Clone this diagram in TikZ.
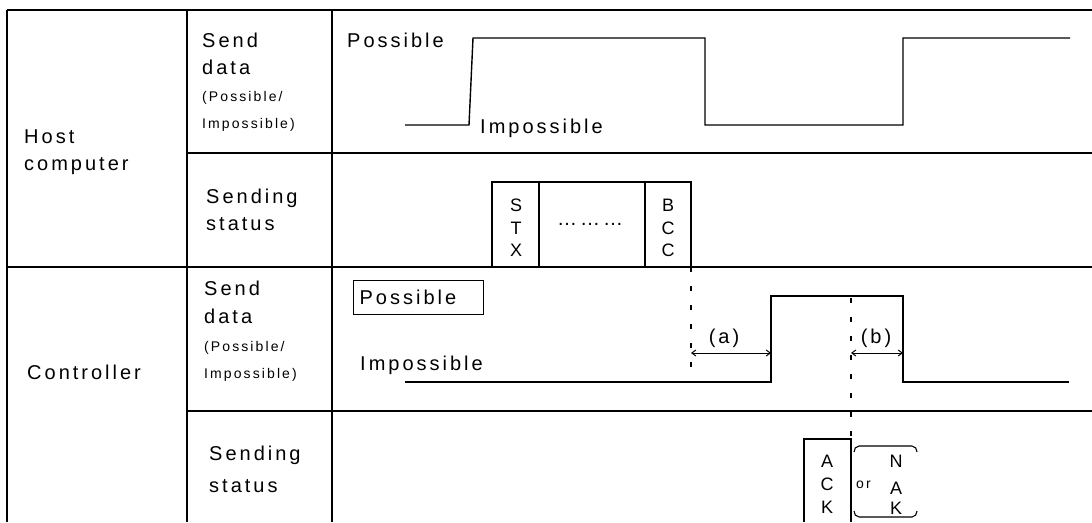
\documentclass[tikz,border=0pt]{standalone}
\usepackage{fontspec}
\setmainfont{Liberation Sans}[LetterSpace=15]
\usetikzlibrary{arrows.meta}
\begin{document}
\begin{tikzpicture}[x=1pt,y=-1pt,
  rule/.style={line width=2.8pt},
  post/.style={line width=2.4pt},
  wave/.style={line width=1.4pt},
  frameline/.style={line width=1.3pt},
  guide/.style={line width=1.1pt, dash pattern=on 5pt off 14pt},
  span/.style={line width=1pt, {Straight Barb[length=4pt,width=6pt]}-{Straight Barb[length=4pt,width=6pt]}},
  lbl/.style={anchor=base west, inner sep=0pt, font=\fontsize{20}{24}\selectfont},
  sml/.style={anchor=base west, inner sep=0pt, font=\fontsize{14}{16}\selectfont},
  glyph/.style={anchor=base, inner sep=0pt, font=\fontsize{18}{20}\selectfont},
  spanlbl/.style={anchor=base, inner sep=0pt, font=\fontsize{20}{24}\selectfont}]
\useasboundingbox (0,0) rectangle (1092,522);

% table grid
\draw[rule] (7,10) -- (1092,10);
\draw[rule] (7,267) -- (1092,267);
\draw[rule] (187,153) -- (1092,153);
\draw[rule] (187,411) -- (1092,411);
\draw[post] (7,10) -- (7,522);
\draw[post] (187,10) -- (187,522);
\draw[post] (332,10) -- (332,522);

% row headings
\node[lbl] (host1) at (24,143) {Host};
\node[lbl] (host2) at (24,170) {computer};
\node[lbl] (ctrl) at (27,379) {Controller};

\node[lbl] (hsd1) at (202,47) {Send};
\node[lbl] (hsd2) at (202,74) {data};
\node[sml] (hsd3) at (202,101) {(Possible/};
\node[sml] (hsd4) at (202,128) {Impossible)};
\node[lbl] (hss1) at (206,203) {Sending};
\node[lbl] (hss2) at (206,230) {status};

\node[lbl] (csd1) at (204,295) {Send};
\node[lbl] (csd2) at (204,323) {data};
\node[sml] (csd3) at (204,351) {(Possible/};
\node[sml] (csd4) at (204,378) {Impossible)};
\node[lbl] (css1) at (209,460) {Sending};
\node[lbl] (css2) at (209,492) {status};

% host: send data level
\draw[wave] (405,125) -- (469,125) -- (473,38) -- (705,38) -- (705,125)
  -- (903,125) -- (903,38) -- (1070,38);
\node[lbl] (hposs) at (347,47) {Possible};
\node[lbl] (himp) at (480,133) {Impossible};

% host: sending status frame
\draw[frameline] (492,267) -- (492,182) -- (691,182) -- (691,267);
\draw[frameline] (539,182) -- (539,267);
\draw[frameline] (645,182) -- (645,267);
\node[glyph] (stxS) at (516,211) {S};
\node[glyph] (stxT) at (516,234) {T};
\node[glyph] (stxX) at (516,256) {X};
\node[inner sep=0pt, font=\fontsize{20}{24}\selectfont] (dots) at (590,224) {………};
\node[glyph] (bccB) at (668,211) {B};
\node[glyph] (bccC1) at (668,234) {C};
\node[glyph] (bccC2) at (668,256) {C};

% controller: send data level
\draw[wave] (405,382) -- (771,382) -- (771,296) -- (903,296) -- (903,382) -- (1069,382);
\node[draw, line width=1.3pt, anchor=north west, minimum width=130pt, minimum height=34pt,
  inner xsep=6pt, inner ysep=0pt, text width=118pt, align=left,
  font=\fontsize{20}{24}\selectfont] (cposs) at (353,280) {Possible};
\node[lbl] (cimp) at (360,370) {Impossible};

% timing guides
\coordinate (bccfoot) at (691,267);
\coordinate (guideA) at (691,368);
\draw[guide] (bccfoot) -- (guideA);
\coordinate (ackup) at (851,298);
\coordinate (acktop) at (851,439);
\draw[guide] (ackup) -- (acktop);

\coordinate (aL) at (691,353);
\coordinate (aR) at (771,353);
\coordinate (bL) at (851,353);
\coordinate (bR) at (903,353);
\draw[span] (aL) -- (aR);
\draw[span] (bL) -- (bR);
\node[spanlbl] (la) at (724,343) {(a)};
\node[spanlbl] (lb) at (876,343) {(b)};

% controller: sending status
\draw[frameline] (804,522) -- (804,439) -- (851,439) -- (851,522);
\node[glyph] (ackA) at (827,467) {A};
\node[glyph] (ackC) at (827,490) {C};
\node[glyph] (ackK) at (827,513) {K};
\node[anchor=base west, inner sep=0pt, font=\fontsize{14}{16}\selectfont] (or) at (856,488) {or};
\node[glyph] (nakN) at (896,467) {N};
\node[glyph] (nakA) at (896,494) {A};
\node[glyph] (nakK) at (896,514) {K};
\draw[line width=1.1pt] (854,452) to[out=90,in=180] (859,446) -- (912,446) to[out=0,in=90] (917,452);
\draw[line width=1.1pt] (854,511) to[out=-90,in=180] (859,517) -- (912,517) to[out=0,in=-90] (917,511);
\end{tikzpicture}
\end{document}
